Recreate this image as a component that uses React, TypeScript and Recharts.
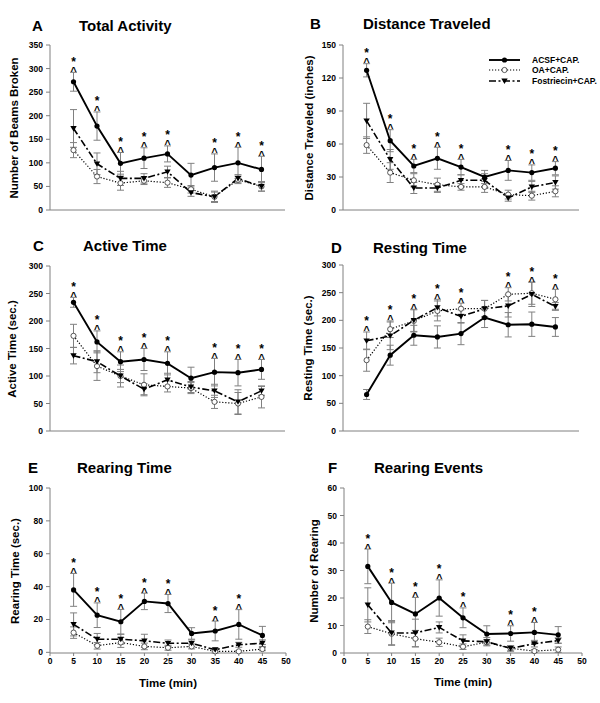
import { LineChart, Line, XAxis, YAxis, ErrorBar, Legend } from 'recharts';

const FONT = 'Arial, "Liberation Sans", Helvetica, sans-serif';
const ERR = '#808080';

const times = [5, 10, 15, 20, 25, 30, 35, 40, 45];
const xTicks = [0, 5, 10, 15, 20, 25, 30, 35, 40, 45, 50];

// A - total activity
const activityAcsf = [272, 178, 99, 110, 119, 74, 90, 100, 86];
const activityAcsfErr = [20, 30, 23, 22, 17, 25, 29, 33, 28];
const activityOa = [127, 71, 57, 62, 58, 44, 28, 64, 50];
const activityOaErr = [16, 15, 15, 8, 10, 8, 10, 8, 10];
const activityFost = [173, 98, 67, 67, 81, 37, 28, 67, 50];
const activityFostErr = [40, 23, 15, 10, 12, 8, 12, 8, 10];
const activitySig = [1, 1, 1, 1, 1, 0, 1, 1, 1];

// B - distance traveled
const distAcsf = [127, 63, 40, 47, 39, 30, 36, 34, 38];
const distAcsfErr = [6, 10, 6, 10, 7, 6, 9, 7, 6];
const distOa = [59, 34, 27, 23, 21, 21, 14, 13, 17];
const distOaErr = [7.5, 9, 6, 6, 3, 5, 4, 4, 5];
const distFost = [81, 46, 20, 20, 27, 27, 11, 21, 25];
const distFostErr = [16, 9, 5, 4, 5, 6, 3, 5, 6];
const distSig = [1, 1, 1, 1, 1, 0, 1, 1, 1];

// C - active time
const activeAcsf = [234, 162, 126, 130, 123, 96, 107, 106, 112];
const activeAcsfErr = [9, 20, 18, 20, 21, 20, 25, 24, 18];
const activeOa = [173, 118, 100, 84, 81, 78, 53, 50, 62];
const activeOaErr = [21, 26, 12, 20, 10, 10, 12, 20, 20];
const activeFost = [137, 126, 100, 76, 93, 80, 73, 53, 73];
const activeFostErr = [15, 20, 20, 10, 12, 10, 12, 22, 8];
const activeSig = [1, 1, 1, 1, 1, 0, 1, 1, 1];

// D - resting time
const restAcsf = [66, 137, 173, 170, 176, 205, 192, 193, 188];
const restAcsfErr = [9, 18, 18, 20, 20, 18, 22, 22, 17];
const restOa = [128, 184, 199, 217, 221, 221, 247, 249, 238];
const restOaErr = [20, 15, 20, 18, 10, 15, 12, 20, 18];
const restFost = [163, 172, 200, 223, 207, 221, 226, 247, 225];
const restFostErr = [16, 25, 20, 15, 12, 15, 20, 22, 7];
const restSig = [1, 1, 1, 1, 1, 0, 1, 1, 1];

// E - rearing time
const rearTimeAcsf = [38, 22.6, 18.6, 31, 29.7, 11.5, 13, 17, 10.3];
const rearTimeAcsfErr = [10, 7.5, 7.5, 5, 5.5, 3.5, 6, 9, 5.5];
const rearTimeOa = [12, 4, 6, 3.6, 2.8, 3.6, 0.6, 0.6, 2];
const rearTimeOaErr = [3.5, 2, 3, 2, 1.5, 1.5, 1, 0.5, 1];
const rearTimeFost = [17, 8, 8, 7, 5.5, 5.5, 1.6, 4.6, 5.6];
const rearTimeFostErr = [7, 3.5, 3, 4, 2, 2, 1, 1.5, 2];
const rearTimeSig = [1, 1, 1, 1, 1, 0, 1, 1, 0];

// F - rearing events
const rearEvAcsf = [31.5, 18.4, 14.2, 20, 12.8, 6.9, 7.1, 7.5, 6.6];
const rearEvAcsfErr = [6.3, 7, 6, 6.6, 3.6, 3, 2.8, 3.6, 3];
const rearEvOa = [9.6, 7, 5.2, 3.9, 2.3, 3.9, 1.7, 0.7, 1.2];
const rearEvOaErr = [2.5, 4, 3, 1.5, 1, 1, 1, 0.5, 1];
const rearEvFost = [17.5, 7.3, 7.3, 9.3, 4.4, 4.1, 1.7, 3.4, 4.5];
const rearEvFostErr = [6.2, 4.5, 5, 2, 2.2, 1.5, 1, 1.2, 1];
const rearEvSig = [1, 1, 1, 1, 1, 0, 1, 1, 0];

const seriesNames = { acsf: 'ACSF+CAP.', oa: 'OA+CAP.', fost: 'Fostriecin+CAP.' };

const makeRows = (
  acsf: number[], acsfErr: number[], oa: number[], oaErr: number[],
  fost: number[], fostErr: number[], sig: number[]
) =>
  times.map((t, i) => ({
    time: t,
    acsf: acsf[i], acsfErr: acsfErr[i],
    oa: oa[i], oaErr: oaErr[i],
    fost: fost[i], fostErr: fostErr[i],
    sigTop: sig[i]
      ? Math.max(acsf[i] + acsfErr[i], oa[i] + oaErr[i], fost[i] + fostErr[i])
      : null,
  }));

const AcsfDot = (p: any) =>
  p.cx == null ? <g key={p.index} /> : <circle key={p.index} cx={p.cx} cy={p.cy} r={2.6} fill="#000" />;

const OaDot = (p: any) =>
  p.cx == null ? <g key={p.index} /> : (
    <circle key={p.index} cx={p.cx} cy={p.cy} r={2.6} fill="#fff" stroke="#444" strokeWidth={0.9} />
  );

const FostDot = (p: any) =>
  p.cx == null ? <g key={p.index} /> : (
    <path key={p.index} d={`M${p.cx - 3.2},${p.cy - 2.4} L${p.cx + 3.2},${p.cy - 2.4} L${p.cx},${p.cy + 3} Z`} fill="#000" />
  );

// star over caret, stacked as one text above the highest error bar
const SigMark = (p: any) => {
  if (p.cx == null || p.cy == null || p.value == null) return <g key={p.index} />;
  return (
    <text key={p.index} x={p.cx} y={p.cy - 6.5} textAnchor="middle"
      fontFamily={FONT} fontWeight="bold" fontSize={12} fill="#000">
      <tspan x={p.cx}>*</tspan>
      <tspan x={p.cx} dy={9} fontSize={10.5}>^</tspan>
    </text>
  );
};

const lineStyle: Record<string, { dash?: string; w: number; dot: any }> = {
  acsf: { w: 1.9, dot: AcsfDot },
  oa: { dash: '1.2 1.8', w: 1.2, dot: OaDot },
  fost: { dash: '7 2.5 2 2.5', w: 1.6, dot: FostDot },
};

const LegendBox = (props: any) => {
  const items = (props.payload || []).filter((e: any) => lineStyle[e.dataKey]);
  const order = ['acsf', 'oa', 'fost'];
  items.sort((a: any, b: any) => order.indexOf(a.dataKey) - order.indexOf(b.dataKey));
  return (
    <div style={{ fontFamily: FONT, fontSize: 8.5, fontWeight: 'bold', color: '#000' }}>
      {items.map((e: any) => {
        const s = lineStyle[e.dataKey];
        const Dot = s.dot;
        return (
          <div key={e.dataKey} style={{ display: 'flex', alignItems: 'center', height: 10.3 }}>
            <svg width={43} height={10}>
              <line x1={0} x2={31} y1={5} y2={5} stroke="#000" strokeWidth={s.w} strokeDasharray={s.dash} />
              {Dot({ cx: 15.5, cy: 5, index: 0 })}
            </svg>
            <span>{e.value}</span>
          </div>
        );
      })}
    </div>
  );
};

type PanelProps = {
  left: number; top: number; height: number;
  mTop: number; mRight: number; yWidth: number; xHeight: number;
  yMax: number; yTicks: number[]; rows: any[];
  showX?: boolean; legend?: boolean;
};

const Panel = ({ left, top, height, mTop, mRight, yWidth, xHeight, yMax, yTicks, rows, showX, legend }: PanelProps) => (
  <div style={{ position: 'absolute', left, top }}>
    <LineChart width={300} height={height} data={rows} margin={{ top: mTop, right: mRight, bottom: 0, left: 0 }}>
      <XAxis
        dataKey="time" type="number" domain={[0, 50]} ticks={xTicks} interval={0}
        height={xHeight} stroke={ERR} tickSize={3}
        tick={showX ? { fill: '#000', fontSize: 8.5, fontWeight: 'bold', fontFamily: FONT } : false}
      />
      <YAxis
        type="number" domain={[0, yMax]} ticks={yTicks} interval={0} width={yWidth}
        stroke={ERR} tickSize={4} tickMargin={3}
        tick={{ fill: '#000', fontSize: 8.5, fontWeight: 'bold', fontFamily: FONT }}
      />
      {legend && (
        <Legend
          layout="vertical" align="center" verticalAlign="middle"
          content={LegendBox}
          wrapperStyle={{ position: 'absolute', left: 189, top: 55, width: 110, height: 32 }}
        />
      )}
      <Line dataKey="oa" name={seriesNames.oa} stroke="#000" strokeWidth={lineStyle.oa.w}
        strokeDasharray={lineStyle.oa.dash} dot={OaDot} activeDot={false} isAnimationActive={false}>
        <ErrorBar dataKey="oaErr" width={3.5} stroke={ERR} strokeWidth={1} direction="y" />
      </Line>
      <Line dataKey="fost" name={seriesNames.fost} stroke="#000" strokeWidth={lineStyle.fost.w}
        strokeDasharray={lineStyle.fost.dash} dot={FostDot} activeDot={false} isAnimationActive={false}>
        <ErrorBar dataKey="fostErr" width={3.5} stroke={ERR} strokeWidth={1} direction="y" />
      </Line>
      <Line dataKey="acsf" name={seriesNames.acsf} stroke="#000" strokeWidth={lineStyle.acsf.w}
        dot={AcsfDot} activeDot={false} isAnimationActive={false}>
        <ErrorBar dataKey="acsfErr" width={3.5} stroke={ERR} strokeWidth={1} direction="y" />
      </Line>
      <Line dataKey="sigTop" stroke="none" legendType="none" dot={SigMark} activeDot={false}
        isAnimationActive={false} />
    </LineChart>
  </div>
);

const Title = ({ x, y, letter, lx, text }: { x: number; y: number; letter: string; lx: number; text: string }) => (
  <>
    <div style={{ position: 'absolute', left: lx, top: y, transform: 'translateY(-50%)', fontFamily: FONT, fontWeight: 'bold', fontSize: 15, lineHeight: 1 }}>{letter}</div>
    <div style={{ position: 'absolute', left: x, top: y, transform: 'translateY(-50%)', fontFamily: FONT, fontWeight: 'bold', fontSize: 15, lineHeight: 1, whiteSpace: 'nowrap' }}>{text}</div>
  </>
);

const VLabel = ({ x, y, text }: { x: number; y: number; text: string }) => (
  <div style={{ position: 'absolute', left: x, top: y, transform: 'translate(-50%, -50%) rotate(-90deg)', fontFamily: FONT, fontWeight: 'bold', fontSize: 11.5, lineHeight: 1, whiteSpace: 'nowrap' }}>{text}</div>
);

const HLabel = ({ x, y, text }: { x: number; y: number; text: string }) => (
  <div style={{ position: 'absolute', left: x, top: y, transform: 'translate(-50%, -50%)', fontFamily: FONT, fontWeight: 'bold', fontSize: 11.5, lineHeight: 1, whiteSpace: 'nowrap' }}>{text}</div>
);

export default function App() {
  return (
    <div style={{ position: 'absolute', left: 0, top: 0, width: 600, height: 703, background: '#fff' }}>
      <Panel left={0} top={0} height={230} mTop={45} mRight={15} yWidth={50} xHeight={20}
        yMax={350} yTicks={[0, 50, 100, 150, 200, 250, 300, 350]}
        rows={makeRows(activityAcsf, activityAcsfErr, activityOa, activityOaErr, activityFost, activityFostErr, activitySig)} />
      <Panel left={300} top={0} height={230} mTop={45} mRight={21} yWidth={43} xHeight={20}
        yMax={150} yTicks={[0, 30, 60, 90, 120, 150]} legend
        rows={makeRows(distAcsf, distAcsfErr, distOa, distOaErr, distFost, distFostErr, distSig)} />
      <Panel left={0} top={230} height={230} mTop={36} mRight={15} yWidth={50} xHeight={29}
        yMax={300} yTicks={[0, 50, 100, 150, 200, 250, 300]}
        rows={makeRows(activeAcsf, activeAcsfErr, activeOa, activeOaErr, activeFost, activeFostErr, activeSig)} />
      <Panel left={300} top={230} height={230} mTop={35} mRight={21} yWidth={43} xHeight={29}
        yMax={300} yTicks={[0, 50, 100, 150, 200, 250, 300]}
        rows={makeRows(restAcsf, restAcsfErr, restOa, restOaErr, restFost, restFostErr, restSig)} />
      <Panel left={0} top={460} height={243} mTop={28} mRight={14} yWidth={50} xHeight={50}
        yMax={100} yTicks={[0, 20, 40, 60, 80, 100]} showX
        rows={makeRows(rearTimeAcsf, rearTimeAcsfErr, rearTimeOa, rearTimeOaErr, rearTimeFost, rearTimeFostErr, rearTimeSig)} />
      <Panel left={300} top={460} height={243} mTop={28} mRight={18} yWidth={44} xHeight={50}
        yMax={60} yTicks={[0, 10, 20, 30, 40, 50, 60]} showX
        rows={makeRows(rearEvAcsf, rearEvAcsfErr, rearEvOa, rearEvOaErr, rearEvFost, rearEvFostErr, rearEvSig)} />

      <Title letter="A" lx={32} x={79} y={25} text="Total Activity" />
      <Title letter="B" lx={310} x={363} y={23} text="Distance Traveled" />
      <Title letter="C" lx={33} x={83} y={245} text="Active Time" />
      <Title letter="D" lx={331} x={373} y={247} text="Resting Time" />
      <Title letter="E" lx={28} x={77} y={467} text="Rearing Time" />
      <Title letter="F" lx={328} x={374} y={467} text="Rearing Events" />

      <VLabel x={15} y={127.5} text="Number of Beams Broken" />
      <VLabel x={310} y={127.5} text="Distance Traveled (inches)" />
      <VLabel x={13} y={348.5} text="Active Time (sec.)" />
      <VLabel x={309} y={348} text="Resting Time (sec.)" />
      <VLabel x={16} y={570.5} text="Rearing Time (sec.)" />
      <VLabel x={315} y={570.5} text="Number of Rearing" />

      <HLabel x={168} y={684} text="Time (min)" />
      <HLabel x={463} y={683} text="Time (min)" />
    </div>
  );
}
